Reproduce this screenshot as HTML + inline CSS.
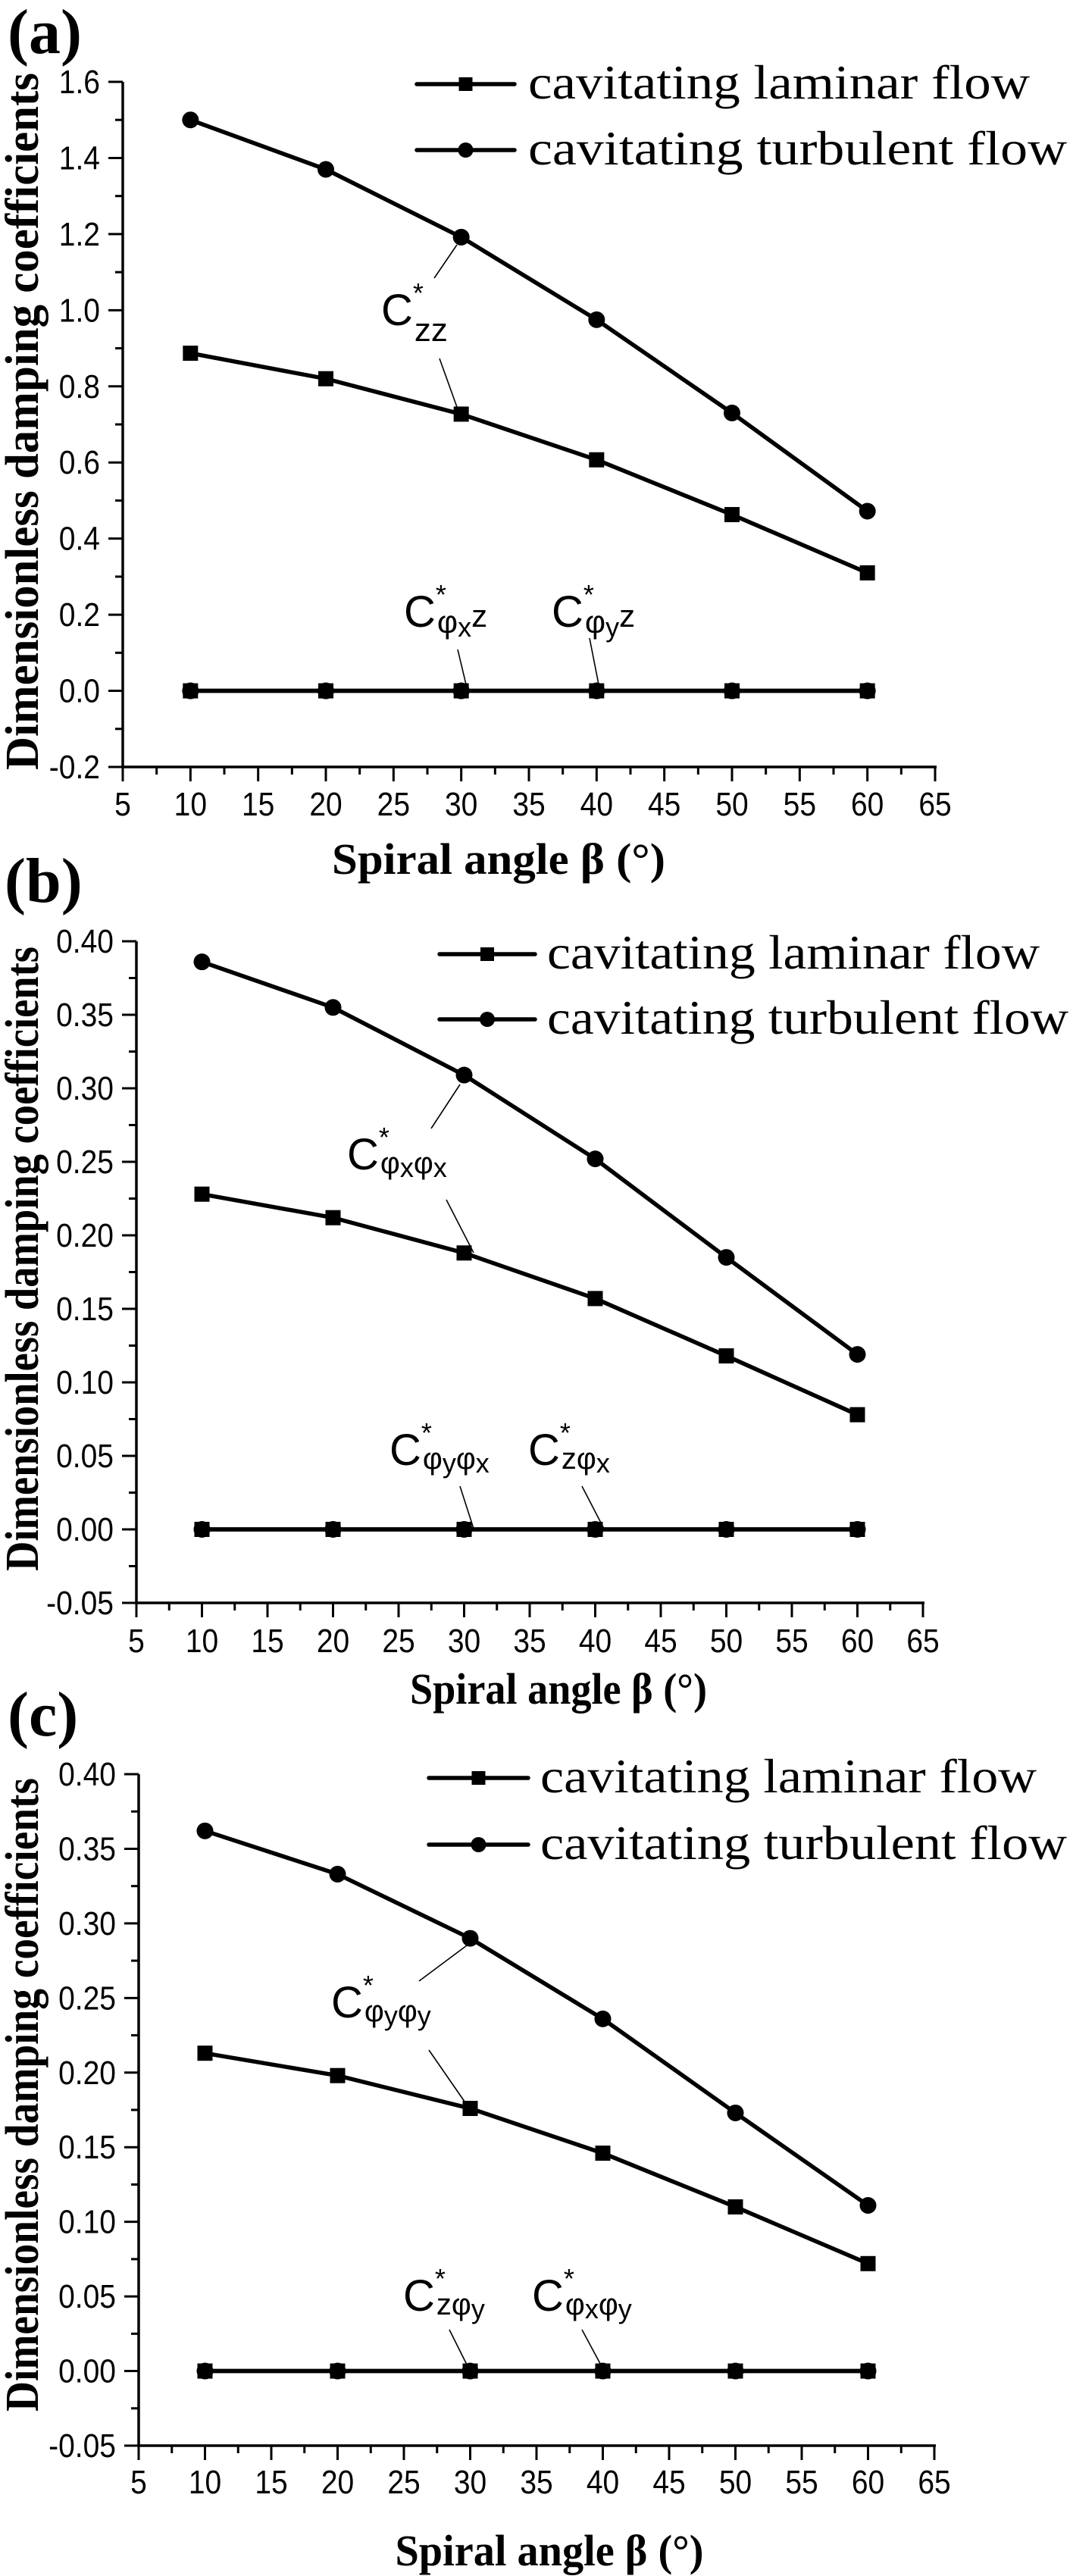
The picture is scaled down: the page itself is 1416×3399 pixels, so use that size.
<!DOCTYPE html>
<html><head><meta charset="utf-8">
<style>
html,body{margin:0;padding:0;background:#fff;}
svg{display:block;}
</style></head>
<body>
<svg id="fig" xmlns="http://www.w3.org/2000/svg" width="1416" height="3399" viewBox="0 0 1416 3399"></svg>
<script>
// ---- data ----
const angles = [10, 20, 30, 40, 50, 60];
const xTicks = [5, 10, 15, 20, 25, 30, 35, 40, 45, 50, 55, 60, 65];
const aLaminar = [0.887, 0.820, 0.727, 0.607, 0.463, 0.310];
const aTurbulent = [1.500, 1.370, 1.192, 0.975, 0.730, 0.472];
const aZero = [0, 0, 0, 0, 0, 0];
const aYTicks = [-0.2, 0.0, 0.2, 0.4, 0.6, 0.8, 1.0, 1.2, 1.4, 1.6];
const bLaminar = [0.228, 0.212, 0.188, 0.157, 0.118, 0.078];
const bTurbulent = [0.386, 0.355, 0.309, 0.252, 0.185, 0.119];
const bZero = [0, 0, 0, 0, 0, 0];
const bYTicks = [-0.05, 0.00, 0.05, 0.10, 0.15, 0.20, 0.25, 0.30, 0.35, 0.40];
const cLaminar = [0.213, 0.198, 0.176, 0.146, 0.110, 0.072];
const cTurbulent = [0.362, 0.333, 0.290, 0.236, 0.173, 0.111];
const cZero = [0, 0, 0, 0, 0, 0];
const cYTicks = [-0.05, 0.00, 0.05, 0.10, 0.15, 0.20, 0.25, 0.30, 0.35, 0.40];

const NS = 'http://www.w3.org/2000/svg';
const svg = document.getElementById('fig');
function mk(tag, attrs, parent) {
  const e = document.createElementNS(NS, tag);
  for (const k in attrs) e.setAttribute(k, attrs[k]);
  (parent || svg).appendChild(e);
  return e;
}
function labelWidth(s, fs) {
  let w = 0;
  for (const ch of s) w += (ch === '.') ? 0.278 : (ch === '-') ? 0.333 : 0.556;
  return w * fs;
}

const panels = [
  {id:'a', label:'(a)', lx:10, ly:70, x0:162, x1:1234, yBot:1012, yTop:108, yTicks:aYTicks, minor:0.1, dec:1,
   lam:aLaminar, turb:aTurbulent, zero:aZero, tickBase:1076, titleBase:1153, titleX:658, titleW:440,
   ytCenter:556, ytLen:920, legX1:550, legX2:679, legY:[111,198], legTx:697, legW:[662,711],
   ann:[
     {x:503, y:429, parts:[['zz',44,21]], lines:[[573,367,603,323],[580,473,603,537]]},
     {x:533, y:827, parts:[['φ',42,8],['x',36,13],['z',42,0]], lines:[[604,857,615,903]]},
     {x:728, y:827, parts:[['φ',42,8],['y',36,13],['z',42,0]], lines:[[778,842,790,903]]}
   ]},
  {id:'b', label:'(b)', lx:6, ly:1190, x0:180, x1:1218, yBot:2115, yTop:1242, yTicks:bYTicks, minor:0.025, dec:2,
   lam:bLaminar, turb:bTurbulent, zero:bZero, tickBase:2180, titleBase:2248, titleX:737, titleW:392,
   ytCenter:1661, ytLen:824, legX1:580, legX2:706, legY:[1259,1345], legTx:722, legW:[650,688],
   ann:[
     {x:458, y:1543, parts:[['φ',40,5],['x',36,10],['φ',40,5],['x',36,10]], lines:[[569,1489,607,1431],[589,1583,625,1653]]},
     {x:514, y:1933, parts:[['φ',40,5],['y',36,10],['φ',40,5],['x',36,10]], lines:[[607,1961,625,2017]]},
     {x:697, y:1933, parts:[['z',40,5],['φ',40,5],['x',36,10]], lines:[[768,1961,797,2017]]}
   ]},
  {id:'c', label:'(c)', lx:10, ly:2290, x0:183, x1:1233, yBot:3227, yTop:2341, yTicks:cYTicks, minor:0.025, dec:2,
   lam:cLaminar, turb:cTurbulent, zero:cZero, tickBase:3290, titleBase:3385, titleX:725, titleW:407,
   ytCenter:2764, ytLen:836, legX1:566, legX2:697, legY:[2346,2434], legTx:713, legW:[655,695],
   ann:[
     {x:437, y:2662, parts:[['φ',40,5],['y',36,10],['φ',40,5],['y',36,10]], lines:[[553,2614,616,2567],[566,2705,620,2783]]},
     {x:532, y:3049, parts:[['z',40,5],['φ',40,5],['y',36,10]], lines:[[593,3074,620,3128]]},
     {x:702, y:3049, parts:[['φ',40,5],['x',36,10],['φ',40,5],['y',36,10]], lines:[[768,3074,797,3128]]}
   ]}
];

panels.forEach(p => {
  const g = mk('g', {});
  
  
  const ymin = p.yTicks[0], ymax = p.yTicks[p.yTicks.length - 1];
  const xmin = xTicks[0], xmax = xTicks[xTicks.length - 1];
  const X = v => p.x0 + (v - xmin) / (xmax - xmin) * (p.x1 - p.x0);
  const Y = v => p.yBot - (v - ymin) / (ymax - ymin) * (p.yBot - p.yTop);

  const pl = mk('text', {x:p.lx, y:p.ly, 'font-family':'Liberation Serif, serif', 'font-weight':'bold', 'font-size':84}, g);
  pl.textContent = p.label;
  
  

  const ya = mk('line', {x1:p.x0, y1:p.yBot, x2:p.x0, y2:p.yTop, stroke:'#000', 'stroke-width':3.5}, g);
  
  
  const xa = mk('line', {x1:p.x0 - 2, y1:p.yBot, x2:p.x1 + 2, y2:p.yBot, stroke:'#000', 'stroke-width':3.5}, g);
  
  

  const step = p.yTicks[1] - p.yTicks[0];
  p.yTicks.forEach((t, i) => {
    const yy = Y(t);
    mk('line', {x1:p.x0 - 19, y1:yy, x2:p.x0, y2:yy, stroke:'#000', 'stroke-width':3}, g);
    if (i < p.yTicks.length - 1) {
      const ym = Y(t + step / 2);
      mk('line', {x1:p.x0 - 10, y1:ym, x2:p.x0, y2:ym, stroke:'#000', 'stroke-width':3}, g);
    }
    const s = t.toFixed(p.dec);
    const tl = mk('text', {x:p.x0 - 30, y:yy + 15, 'text-anchor':'end', 'font-family':'Liberation Sans, sans-serif', 'font-size':44, textLength:labelWidth(s, 39), lengthAdjust:'spacingAndGlyphs'}, g);
    tl.textContent = s;
    
    
  });
  xTicks.forEach((t, i) => {
    const xx = X(t);
    mk('line', {x1:xx, y1:p.yBot, x2:xx, y2:p.yBot + 19, stroke:'#000', 'stroke-width':3}, g);
    if (i < xTicks.length - 1) {
      const xm = X(t + 2.5);
      mk('line', {x1:xm, y1:p.yBot, x2:xm, y2:p.yBot + 10, stroke:'#000', 'stroke-width':3}, g);
    }
    const s = String(t);
    const tl = mk('text', {x:xx, y:p.tickBase, 'text-anchor':'middle', 'font-family':'Liberation Sans, sans-serif', 'font-size':44, textLength:labelWidth(s, 39), lengthAdjust:'spacingAndGlyphs'}, g);
    tl.textContent = s;
    
    
  });

  const xt = mk('text', {x:p.titleX, y:p.titleBase, 'text-anchor':'middle', 'font-family':'Liberation Serif, serif', 'font-weight':'bold', 'font-size':58, textLength:p.titleW, lengthAdjust:'spacingAndGlyphs'}, g);
  xt.textContent = 'Spiral angle β (°)';
  
  
  const yt = mk('text', {x:0, y:0, transform:'translate(50,' + p.ytCenter + ') rotate(-90)', 'text-anchor':'middle', 'font-family':'Liberation Serif, serif', 'font-weight':'bold', 'font-size':62, textLength:p.ytLen, lengthAdjust:'spacingAndGlyphs'}, g);
  yt.textContent = 'Dimensionless damping coefficients';
  
  

  function series(vals, shape, name) {
    const pts = vals.map((v, i) => X(angles[i]) + ',' + Y(v)).join(' ');
    const pl2 = mk('polyline', {points:pts, fill:'none', stroke:'#000', 'stroke-width':5.5, 'stroke-linejoin':'round'}, g);
    
    
    vals.forEach((v, i) => {
      let m;
      if (shape === 'sq') m = mk('rect', {x:X(angles[i]) - 10, y:Y(v) - 10, width:20, height:20, fill:'#000'}, g);
      else m = mk('circle', {cx:X(angles[i]), cy:Y(v), r:11, fill:'#000'}, g);
      
      
    });
  }
  series(p.zero, 'ci', 'zero-turbulent');
  series(p.zero, 'sq', 'zero-laminar');
  series(p.lam, 'sq', 'laminar');
  series(p.turb, 'ci', 'turbulent');

  const names = ['cavitating laminar flow', 'cavitating turbulent flow'];
  p.legY.forEach((ly, i) => {
    const lg = mk('g', {}, g);
    
    
    mk('line', {x1:p.legX1, y1:ly, x2:p.legX2, y2:ly, stroke:'#000', 'stroke-width':5.5, 'stroke-linecap':'round'}, lg);
    const mx = (p.legX1 + p.legX2) / 2;
    if (i === 0) mk('rect', {x:mx - 9, y:ly - 9, width:18, height:18, fill:'#000'}, lg);
    else mk('circle', {cx:mx, cy:ly, r:10, fill:'#000'}, lg);
    const t = mk('text', {x:p.legTx, y:ly + 19, 'font-family':'Liberation Serif, serif', 'font-size':64, textLength:p.legW[i], lengthAdjust:'spacingAndGlyphs'}, lg);
    t.textContent = names[i];
  });

  p.ann.forEach(a => {
    const ag = mk('g', {}, g);
    
    
    const t = mk('text', {x:a.x, y:a.y, 'font-family':'Liberation Sans, sans-serif', 'font-size':58}, ag);
    const c = mk('tspan', {}, t); c.textContent = 'C';
    const s = mk('tspan', {'font-size':36, dy:-30}, t); s.textContent = '*';
    let prev = -30;
    a.parts.forEach((pt, k) => {
      const ts = mk('tspan', {'font-size':pt[1], dy:(pt[2] - prev)}, t);
      if (k === 0) ts.setAttribute('dx', -12);
      ts.textContent = pt[0];
      prev = pt[2];
    });
    a.lines.forEach(l => {
      mk('line', {x1:l[0], y1:l[1], x2:l[2], y2:l[3], stroke:'#000', 'stroke-width':1.6}, ag);
    });
  });
});
</script>
</body></html>
